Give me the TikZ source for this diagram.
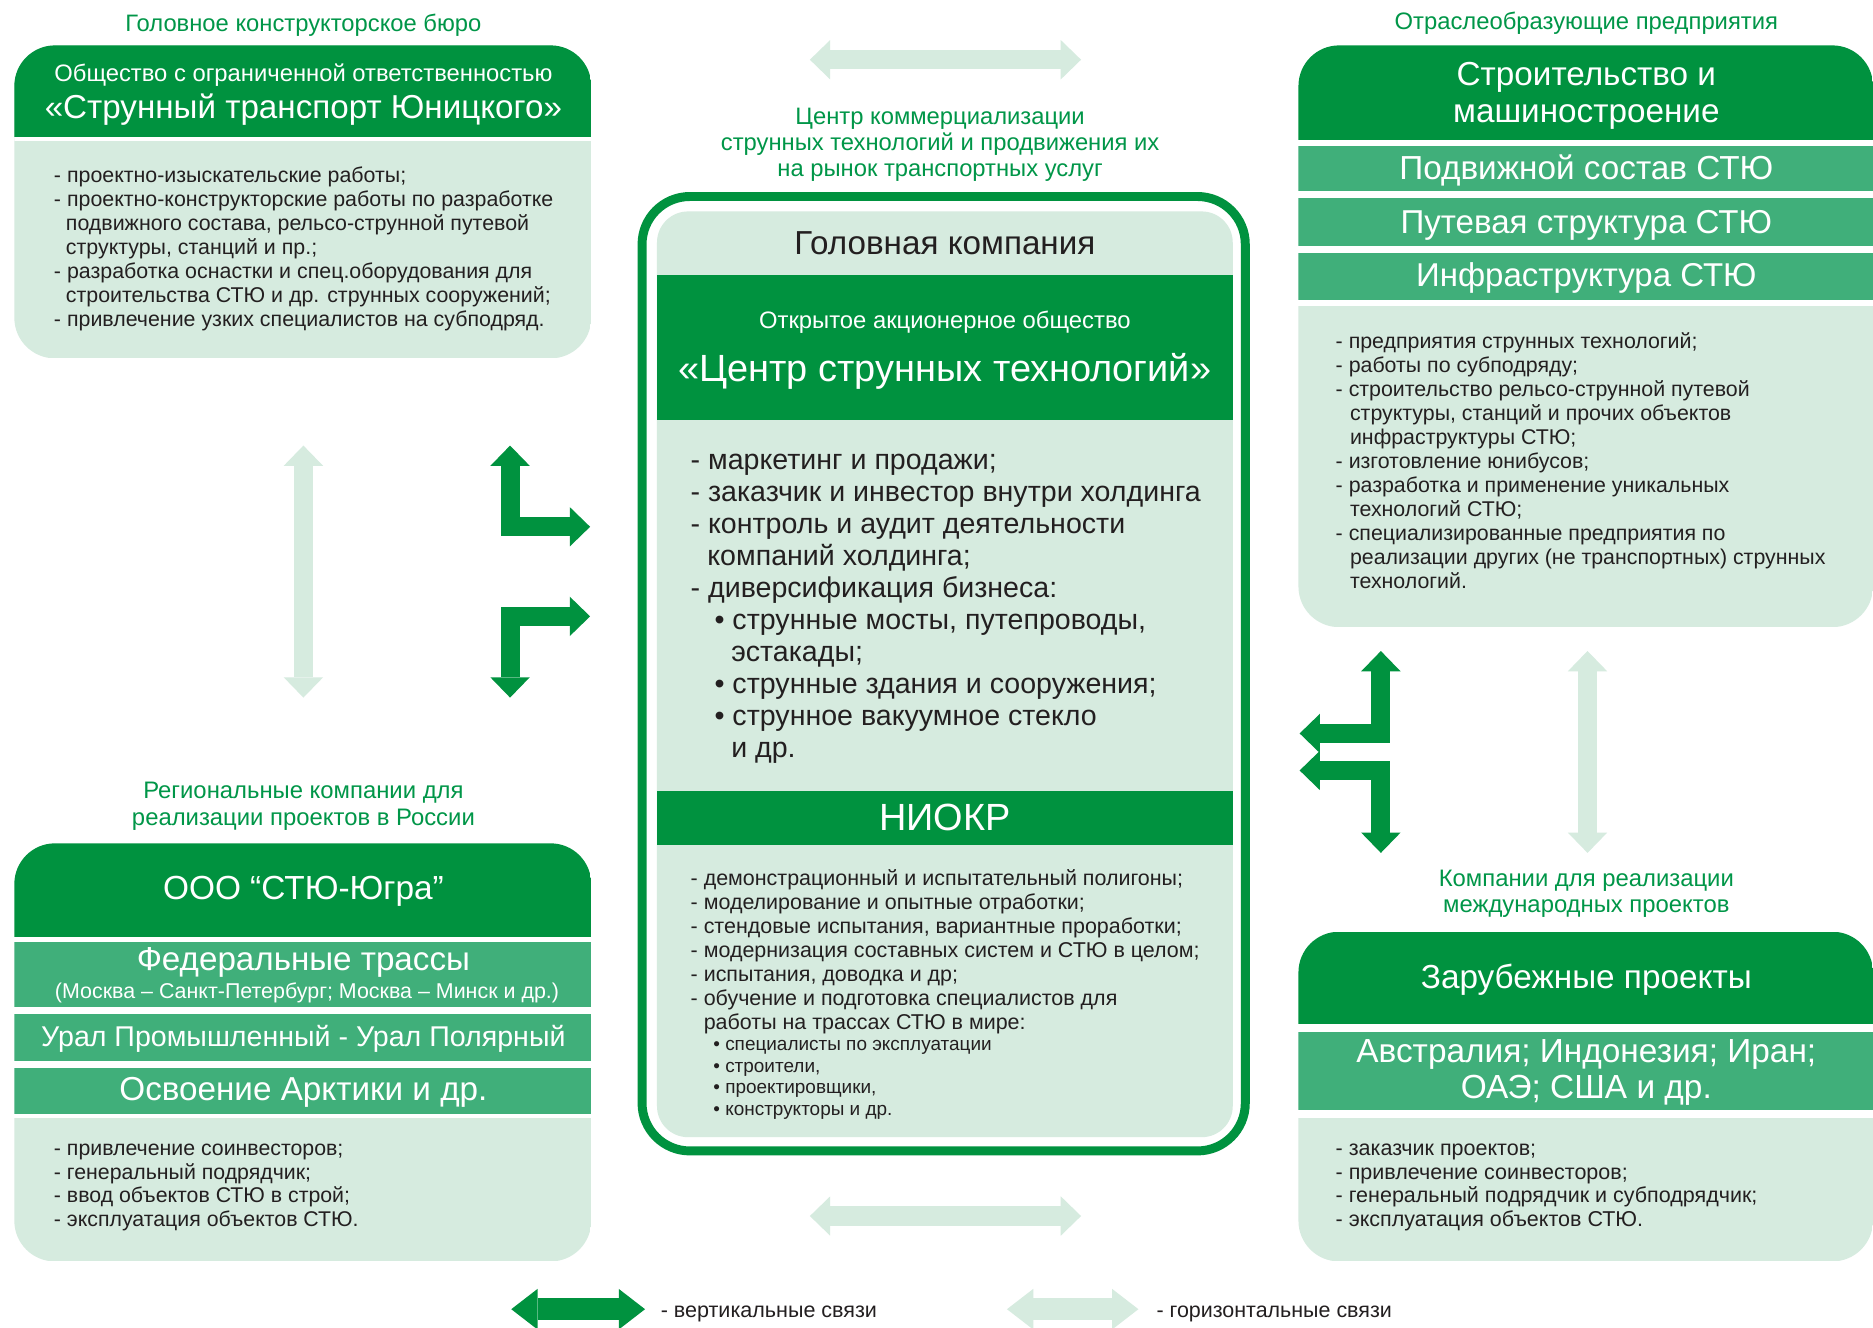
\documentclass[tikz,border=0pt]{standalone}
\usepackage{fontspec}
\setmainfont{Liberation Sans}
\usetikzlibrary{arrows.meta}
\definecolor{dkg}{RGB}{0,146,63}
\definecolor{mdg}{RGB}{64,175,122}
\definecolor{ltg}{RGB}{214,235,223}
\definecolor{lbl}{RGB}{0,150,72}
\definecolor{txt}{RGB}{35,31,32}
\newlength\fitlen
\newcommand\fitfont[3]{%
  \fontsize{10pt}{12pt}\selectfont
  \settowidth{\fitlen}{#3}%
  \pgfmathsetmacro\fitfs{10*#1/\fitlen}%
  \if\relax\detokenize{#2}\relax\pgfmathsetmacro\fitbs{1.2*\fitfs}\else\def\fitbs{#2}\fi
  \fontsize{\fitfs pt}{\fitbs pt}\selectfont}
\newcommand\snode[5][]{\node[#1,font={\fitfont{#4}{}{#5}}] (#2) at (#3) {\strut#5\strut};}
\newcommand\mnode[7][]{\node[#1,font={\fitfont{#4}{#5}{#6}}] (#2) at (#3) {\strut#7\strut};}
\tikzset{
  lab/.style={text=lbl, inner sep=0pt, align=center, yshift=-2.5pt},
  wht/.style={text=white, inner sep=0pt, align=center, yshift=-2.5pt},
  blk/.style={text=txt, inner sep=0pt, align=center, yshift=-2.5pt},
  lst/.style={text=txt, inner sep=0pt, align=left, anchor=west, yshift=-2pt},
  dkarr/.style={draw=dkg, line width=16pt, >={Triangle[width=33pt,length=17pt,line width=0pt]}, <->},
  ltarr/.style={draw=ltg, line width=16pt, >={Triangle[width=33pt,length=17pt,line width=0pt]}, <->},
  dkleg/.style={draw=dkg, line width=18pt, >={Triangle[width=34pt,length=22pt,line width=0pt]}, <->},
  ltleg/.style={draw=ltg, line width=18pt, >={Triangle[width=34pt,length=22pt,line width=0pt]}, <->}
}
\begin{document}
\begin{tikzpicture}[x=1pt,y=-1pt]
\useasboundingbox (0,0) rectangle (1568,1111);
\fill[white] (0,0) rectangle (1568,1111);

% ---------- top-left box ----------
\begin{scope}
\clip[rounded corners=34pt] (12,38) rectangle (495,300);
\fill[ltg] (12,38) rectangle (495,300);
\fill[dkg] (12,38) rectangle (495,115);
\fill[white] (12,115) rectangle (495,118);
\end{scope}
\snode[lab]{tllab}{254,19}{298}{Головное конструкторское бюро}
\snode[wht]{tlh1}{254,61}{417}{Общество с ограниченной ответственностью}
\snode[wht]{tlh2}{254,90}{433}{«Струнный транспорт Юницкого»}
\mnode[lst]{tllist}{45,207}{418}{20}{- проектно-конструкторские работы по разработке}{%
- проектно-изыскательские работы;\\
- проектно-конструкторские работы по разработке\\
\hspace*{10pt}подвижного состава, рельсо-струнной путевой\\
\hspace*{10pt}структуры, станций и пр.;\\
- разработка оснастки и спец.оборудования для\\
\hspace*{10pt}строительства СТЮ и др. струнных сооружений;\\
- привлечение узких специалистов на субподряд.}

% ---------- centre ----------
\fill[ltg, rounded corners=26pt] (550,177) rectangle (1032,952);
\fill[dkg] (550,230) rectangle (1032,352);
\fill[dkg] (550,662) rectangle (1032,707);
\draw[dkg, line width=7.5pt, rounded corners=40pt] (537.5,164.5) rectangle (1042.5,963.5);
\mnode[lab]{clab}{787,119}{367}{22}{струнных технологий и продвижения их}{Центр коммерциализации\\струнных технологий и продвижения их\\на рынок транспортных услуг}
\snode[blk]{chead}{791,204}{252}{Головная компания}
\snode[wht]{coao}{791,268}{311}{Открытое акционерное общество}
\snode[wht]{cname}{791,309}{446}{«Центр струнных технологий»}
\mnode[lst]{clist}{578,506}{427}{26.8}{- заказчик и инвестор внутри холдинга}{%
- маркетинг и продажи;\\
- заказчик и инвестор внутри холдинга\\
- контроль и аудит деятельности\\
\hspace*{14pt}компаний холдинга;\\
- диверсификация бизнеса:\\
\hspace*{20pt}• струнные мосты, путепроводы,\\
\hspace*{34pt}эстакады;\\
\hspace*{20pt}• струнные здания и сооружения;\\
\hspace*{20pt}• струнное вакуумное стекло\\
\hspace*{34pt}и др.}
\snode[wht]{niokr}{791,685}{110}{НИОКР}
\mnode[lst]{nlist}{578,795.5}{426}{20.1}{- модернизация составных систем и СТЮ в целом;}{%
- демонстрационный и испытательный полигоны;\\
- моделирование и опытные отработки;\\
- стендовые испытания, вариантные проработки;\\
- модернизация составных систем и СТЮ в целом;\\
- испытания, доводка и др;\\
- обучение и подготовка специалистов для\\
\hspace*{11pt}работы на трассах СТЮ в мире:}
\mnode[lst]{nsub}{597,901}{233}{18}{• специалисты по эксплуатации}{%
• специалисты по эксплуатации\\
• строители,\\
• проектировщики,\\
• конструкторы и др.}

% ---------- top-right box ----------
\begin{scope}
\clip[rounded corners=34pt] (1087,38) rectangle (1568,525);
\fill[ltg] (1087,256) rectangle (1568,525);
\fill[dkg] (1087,38) rectangle (1568,117);
\fill[mdg] (1087,122) rectangle (1568,160);
\fill[mdg] (1087,166) rectangle (1568,206);
\fill[mdg] (1087,212) rectangle (1568,251);
\end{scope}
\snode[lab]{trlab}{1328,17}{321}{Отраслеобразующие предприятия}
\mnode[wht]{trh}{1328,78}{223}{31}{машиностроение}{Строительство и\\машиностроение}
\snode[wht]{trb1}{1328,141}{313}{Подвижной состав СТЮ}
\snode[wht]{trb2}{1328,186}{311}{Путевая структура СТЮ}
\snode[wht]{trb3}{1328,231}{285}{Инфраструктура СТЮ}
\mnode[lst]{trlist}{1118,386.5}{398}{20.1}{реализации других (не транспортных) струнных}{%
- предприятия струнных технологий;\\
- работы по субподряду;\\
- строительство рельсо-струнной путевой\\
\hspace*{12pt}структуры, станций и прочих объектов\\
\hspace*{12pt}инфраструктуры СТЮ;\\
- изготовление юнибусов;\\
- разработка и применение уникальных\\
\hspace*{12pt}технологий СТЮ;\\
- специализированные предприятия по\\
\hspace*{12pt}реализации других (не транспортных) струнных\\
\hspace*{12pt}технологий.}

% ---------- bottom-left box ----------
\begin{scope}
\clip[rounded corners=34pt] (12,706) rectangle (495,1056);
\fill[ltg] (12,936) rectangle (495,1056);
\fill[dkg] (12,706) rectangle (495,784);
\fill[mdg] (12,789) rectangle (495,843);
\fill[mdg] (12,849) rectangle (495,888);
\fill[mdg] (12,894) rectangle (495,933);
\end{scope}
\mnode[lab]{bllab}{254,672.5}{287}{23}{реализации проектов в России}{Региональные компании для\\реализации проектов в России}
\snode[wht]{blh}{254,744}{235}{ООО “СТЮ-Югра”}
\snode[wht]{blb1}{254,803}{279}{Федеральные трассы}
\snode[wht]{blb1s}{257,829}{422}{(Москва – Санкт-Петербург; Москва – Минск и др.)}
\snode[wht]{blb2}{254,868}{439}{Урал Промышленный - Урал Полярный}
\snode[wht]{blb3}{254,912}{308}{Освоение Арктики и др.}
\mnode[lst]{bllist}{45,991}{255}{20}{- эксплуатация объектов СТЮ.}{%
- привлечение соинвесторов;\\
- генеральный подрядчик;\\
- ввод объектов СТЮ в строй;\\
- эксплуатация объектов СТЮ.}

% ---------- bottom-right box ----------
\begin{scope}
\clip[rounded corners=34pt] (1087,780) rectangle (1568,1056);
\fill[ltg] (1087,936) rectangle (1568,1056);
\fill[dkg] (1087,780) rectangle (1568,857);
\fill[mdg] (1087,864) rectangle (1568,929);
\end{scope}
\mnode[lab]{brlab}{1328,746}{247}{22}{Компании для реализации}{Компании для реализации\\международных проектов}
\snode[wht]{brh}{1328,818}{277}{Зарубежные проекты}
\mnode[wht]{brb}{1328,896}{385}{30}{Австралия; Индонезия; Иран;}{Австралия; Индонезия; Иран;\\ОАЭ; США и др.}
\mnode[lst]{brlist}{1118,991}{353}{20}{- генеральный подрядчик и субподрядчик;}{%
- заказчик проектов;\\
- привлечение соинвесторов;\\
- генеральный подрядчик и субподрядчик;\\
- эксплуатация объектов СТЮ.}

% ---------- connectors ----------
\coordinate (htA) at (678,50);   \coordinate (htB) at (905,50);
\coordinate (hbA) at (678,1018); \coordinate (hbB) at (905,1018);
\coordinate (vlA) at (254,373);  \coordinate (vlB) at (254,584);
\coordinate (vrA) at (1329,545); \coordinate (vrB) at (1329,714);
\draw[ltarr] (htA) -- (htB);
\draw[ltarr] (hbA) -- (hbB);
\draw[ltarr] (vlA) -- (vlB);
\draw[ltarr] (vrA) -- (vrB);

\coordinate (l1A) at (427,373);  \coordinate (l1B) at (494,441);
\coordinate (l2A) at (494,516);  \coordinate (l2B) at (427,584);
\coordinate (r1A) at (1156,545); \coordinate (r1B) at (1088,614);
\coordinate (r2A) at (1088,645); \coordinate (r2B) at (1156,714);
\draw[dkarr] (l1A) |- (l1B);
\draw[dkarr] (l2A) -| (l2B);
\draw[dkarr] (r1A) |- (r1B);
\draw[dkarr] (r2A) -| (r2B);

% ---------- legend ----------
\coordinate (lgdA) at (428,1096); \coordinate (lgdB) at (540,1096);
\coordinate (lglA) at (843,1096); \coordinate (lglB) at (953,1096);
\draw[dkleg] (lgdA) -- (lgdB);
\draw[ltleg] (lglA) -- (lglB);
\snode[lst]{lgdt}{553,1097}{181}{- вертикальные связи}
\snode[lst]{lglt}{968,1097}{197}{- горизонтальные связи}
\end{tikzpicture}
\end{document}
